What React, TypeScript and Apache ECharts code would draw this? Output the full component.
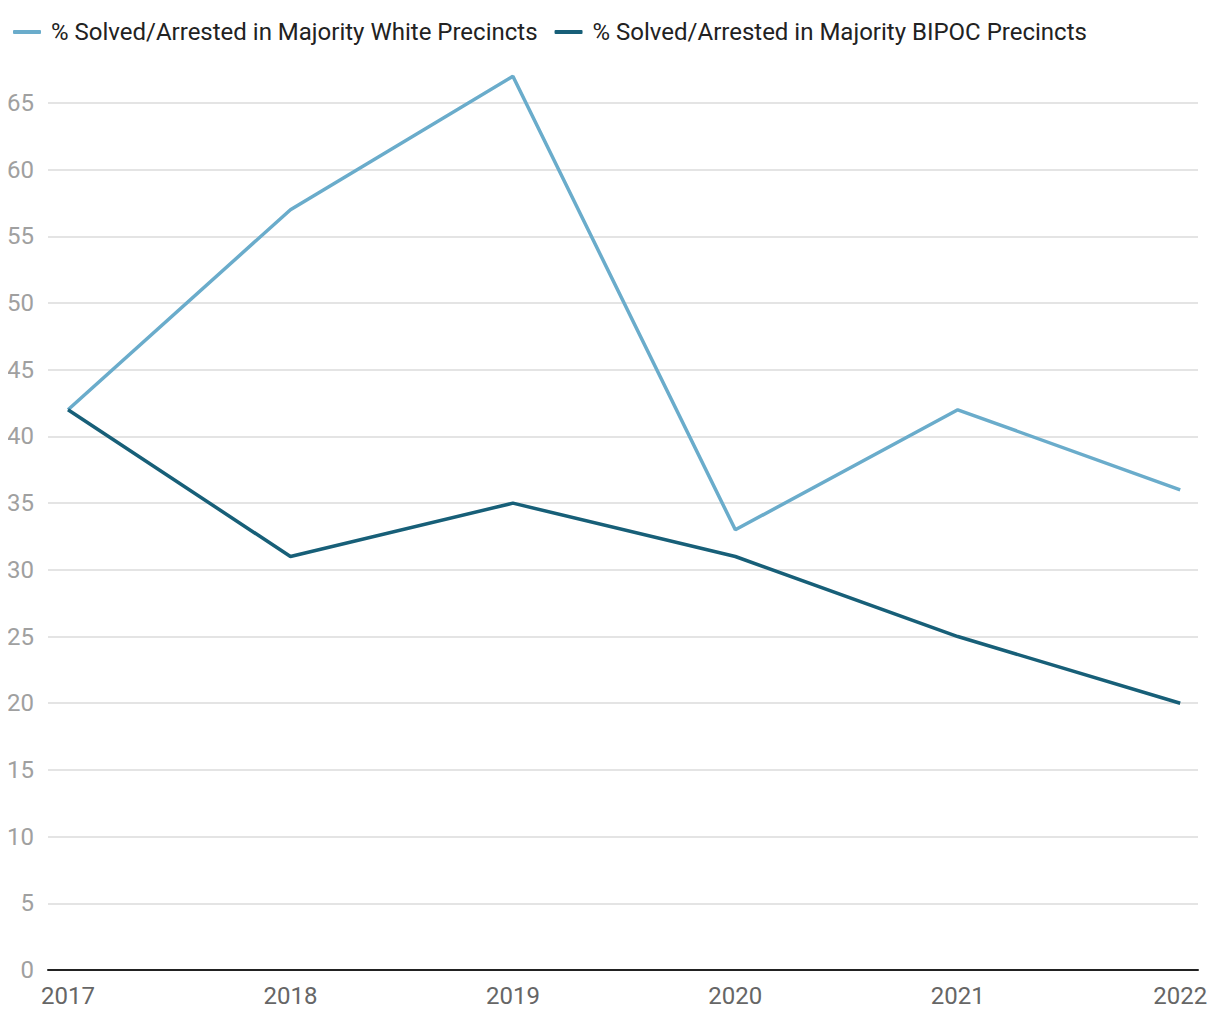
import React, { useEffect, useRef } from "react";
import * as echarts from "echarts";

const years = [2017, 2018, 2019, 2020, 2021, 2022];
const whiteValues = [42, 57, 67, 33, 42, 36];
const bipocValues = [42, 31, 35, 31, 25, 20];
const seriesNames = [
  "% Solved/Arrested in Majority White Precincts",
  "% Solved/Arrested in Majority BIPOC Precincts",
];

export default function App() {
  const ref = useRef<HTMLDivElement>(null);
  useEffect(() => {
    if (!ref.current) return;
    const chart = echarts.init(ref.current, null, { renderer: "svg" });
    const font = "Roboto";
    chart.setOption({
      animation: false,
      textStyle: { fontFamily: font },
      legend: {
        left: 0,
        top: 7,
        itemWidth: 28,
        itemHeight: 4,
        itemGap: 17,
        icon: "roundRect",
        textStyle: { fontSize: 24, color: "#222", fontFamily: font, padding: [0, 0, 0, 5] },
        data: seriesNames,
      },
      grid: { left: 40, right: 14, top: 95, bottom: 42, containLabel: false, outerBoundsMode: "none" },
      xAxis: {
        type: "value",
        min: 2016.91,
        max: 2022.08,
        splitLine: { show: false },
        axisTick: { show: false },
        axisLine: { show: true, lineStyle: { color: "#222", width: 2 } },
        axisLabel: {
          customValues: years,
          formatter: (v: number) => String(Math.round(v)),
          color: "#666",
          fontSize: 24,
          margin: 14,
          fontFamily: font,
        },
      },
      yAxis: {
        type: "value",
        min: 0,
        max: 65,
        interval: 5,
        axisLine: { show: false },
        axisTick: { show: false },
        splitLine: { lineStyle: { color: "#e4e4e4", width: 2 } },
        axisLabel: { color: "#a0a0a0", fontSize: 24, margin: 14, fontFamily: font },
      },
      series: [
        {
          name: seriesNames[0],
          type: "line",
          data: years.map((y, i) => [y, whiteValues[i]]),
          symbol: "none",
          clip: false,
          lineStyle: { color: "#6aaccb", width: 3.5 },
          itemStyle: { color: "#6aaccb" },
        },
        {
          name: seriesNames[1],
          type: "line",
          data: years.map((y, i) => [y, bipocValues[i]]),
          symbol: "none",
          clip: false,
          lineStyle: { color: "#175f78", width: 3.5 },
          itemStyle: { color: "#175f78" },
        },
      ],
    });
    return () => chart.dispose();
  }, []);
  return <div ref={ref} style={{ width: 1204, height: 1004 }} />;
}
